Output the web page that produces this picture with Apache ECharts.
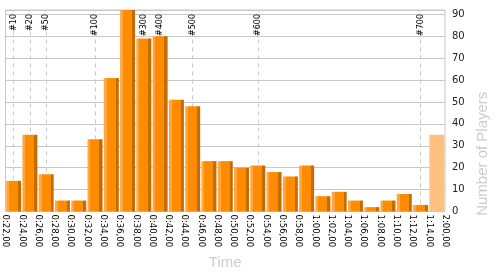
<!DOCTYPE html>
<html>
<head>
<meta charset="utf-8">
<script src="https://cdn.jsdelivr.net/npm/echarts@6/dist/echarts.min.js"></script>
<style>
html,body{margin:0;padding:0;background:#fff;}
#c{width:500px;height:275px;}
</style>
</head>
<body>
<div id="c"></div>
<script>
// Bin boundary labels (ticks)
var tickLabels = ['0:22,00','0:24,00','0:26,00','0:28,00','0:30,00','0:32,00','0:34,00','0:36,00','0:38,00','0:40,00','0:42,00','0:44,00','0:46,00','0:48,00','0:50,00','0:52,00','0:54,00','0:56,00','0:58,00','1:00,00','1:02,00','1:04,00','1:06,00','1:08,00','1:10,00','1:12,00','1:14,00','2:00,00'];
// Bins (named by their start)
var bins = ['0:22','0:24','0:26','0:28','0:30','0:32','0:34','0:36','0:38','0:40','0:42','0:44','0:46','0:48','0:50','0:52','0:54','0:56','0:58','1:00','1:02','1:04','1:06','1:08','1:10','1:12','1:14+'];
var players = [14,35,17,5,5,33,61,92,79,80,51,48,23,23,20,21,18,16,21,7,9,5,2,5,8,3,35];
// Rank markers
var rankLabels = ['#10','#20','#50','#100','#300','#400','#500','#600','#700'];
var rankBins = ['0:22','0:24','0:26','0:32','0:38','0:40','0:44','0:52','1:12'];
var yTicks = [0,10,20,30,40,50,60,70,80,90];

var chart = echarts.init(document.getElementById('c'), null, {renderer:'canvas'});

var mainColor = {type:'linear',x:0,y:0,x2:1,y2:0,colorStops:[
  {offset:0,color:'#ffa640'},{offset:0.19,color:'#ffa640'},
  {offset:0.19,color:'#ff8c00'},{offset:0.79,color:'#ff8c00'},
  {offset:0.79,color:'#c46c00'},{offset:1,color:'#c46c00'}]};

var barData = players.map(function(v,i){
  if (i === players.length-1) return {value:v, itemStyle:{color:'#ffc080'}};
  return {value:v};
});

var option = {
  animation:false,
  backgroundColor:'#fff',
  grid:{left:5.5,right:55,top:10,bottom:55,show:true,borderColor:'#c8c8c8',borderWidth:1,containLabel:false},
  xAxis:[
    {type:'category',data:bins,boundaryGap:true,axisLine:{show:false},axisTick:{show:false},axisLabel:{show:false},splitLine:{show:false}},
    {type:'category',data:tickLabels,boundaryGap:false,position:'bottom',
     axisLine:{show:false},axisTick:{show:false},splitLine:{show:false},
     axisLabel:{interval:0,rotate:-90,margin:3,fontSize:8.5,fontFamily:'DejaVu Sans',color:'#000'},
     name:'Time',nameLocation:'middle',nameGap:35,
     nameTextStyle:{fontSize:15,fontFamily:'Liberation Sans',color:'#cccccc'}}
  ],
  yAxis:{type:'value',position:'right',min:0,max:92,interval:10,
    axisLine:{show:false},axisTick:{show:false},
    splitLine:{lineStyle:{color:'#c8c8c8',width:1}},
    axisLabel:{margin:7,fontSize:10,fontFamily:'DejaVu Sans',color:'#222',
      formatter:function(v){return yTicks.indexOf(v)>=0?String(v):'';}},
    name:'Number of Players',nameLocation:'middle',nameRotate:90,nameGap:25,
    nameTextStyle:{fontSize:15,fontFamily:'Liberation Sans',color:'#cccccc',padding:[0,86,0,0]}
  },
  series:[
    {type:'line',xAxisIndex:0,data:[],z:1,silent:true,
     markLine:{silent:true,symbol:'none',animation:false,z:1,
       lineStyle:{type:[4,4],color:'#c8c8c8',width:1},
       label:{show:true,position:'insideEndTop',distance:[4,0],verticalAlign:'middle',color:'#000',fontSize:8,fontFamily:'DejaVu Sans',formatter:'{b}'},
       data:rankBins.map(function(b,i){return {name:rankLabels[i],xAxis:b};})
     }},
    {type:'bar',xAxisIndex:0,data:barData,barCategoryGap:'8%',z:3,
     itemStyle:{color:mainColor}}
  ]
};
chart.setOption(option);
</script>
</body>
</html>
